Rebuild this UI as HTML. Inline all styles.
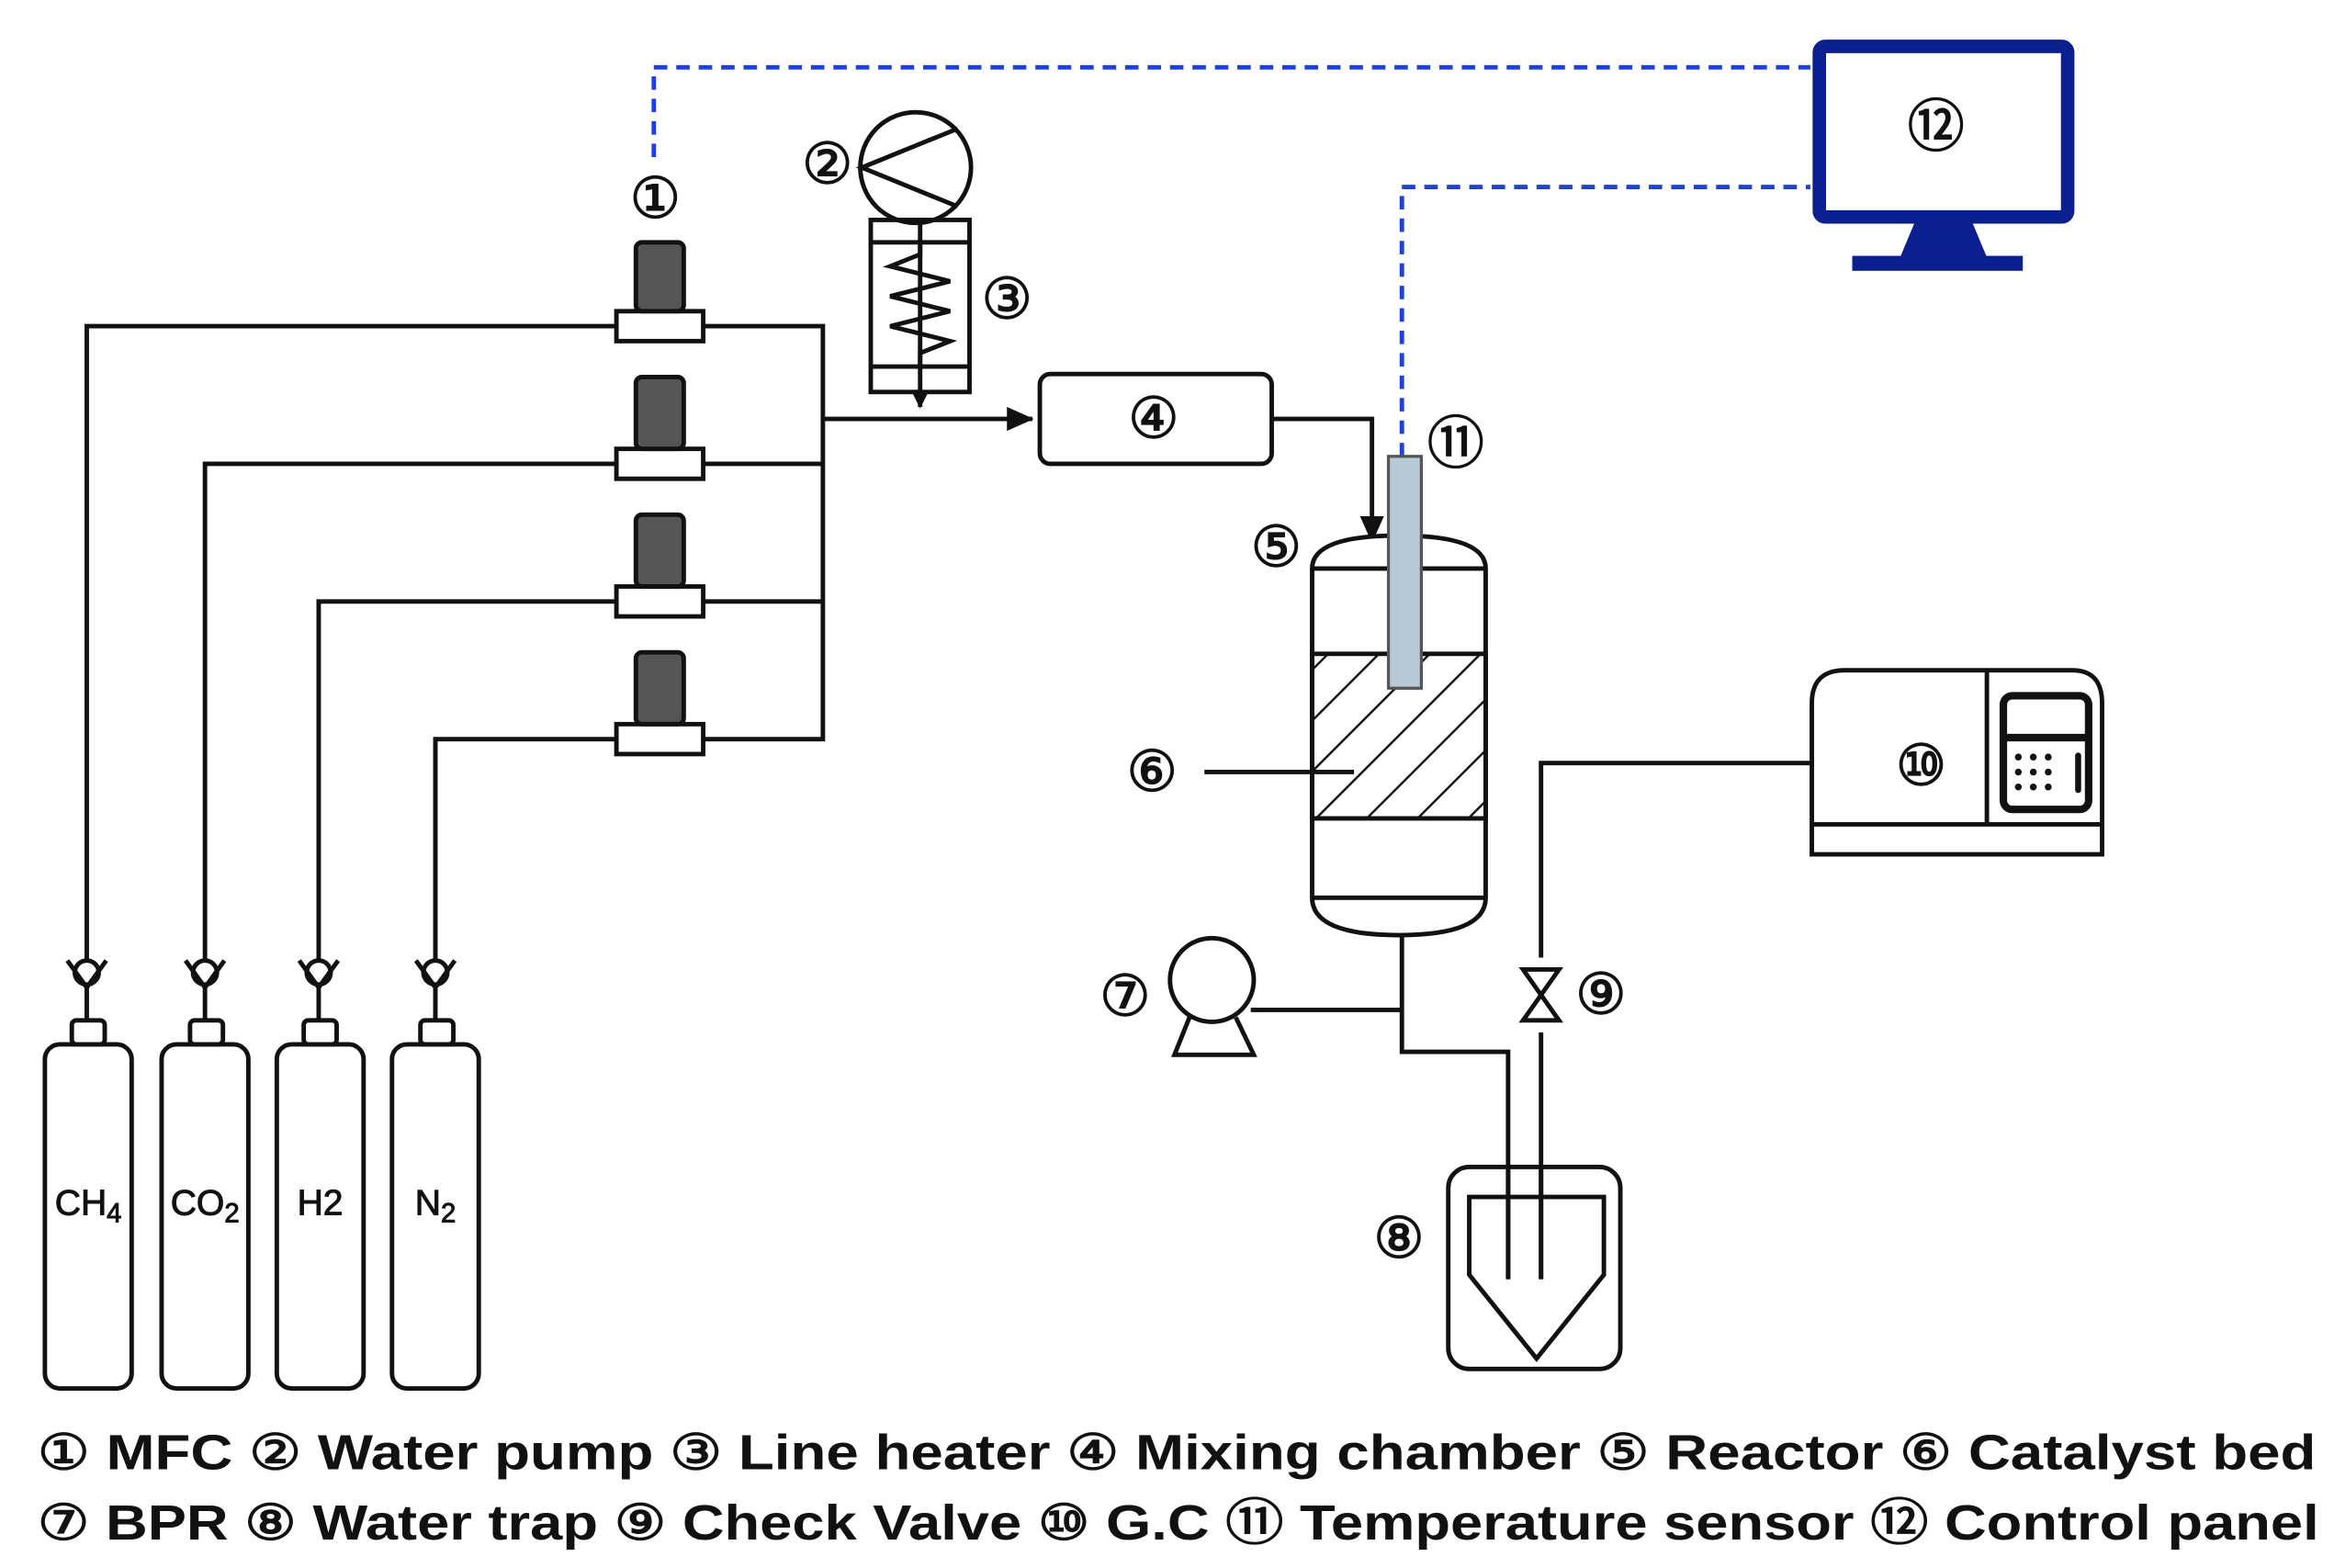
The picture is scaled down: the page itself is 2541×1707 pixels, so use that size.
<!DOCTYPE html>
<html><head><meta charset="utf-8"><style>html,body{margin:0;padding:0;background:#fff}svg{display:block}</style></head>
<body>
<svg width="2541" height="1707" viewBox="0 0 1560 1048" preserveAspectRatio="none" xmlns="http://www.w3.org/2000/svg" font-family="Liberation Sans, DejaVu Sans, sans-serif">
<defs>
<marker id="ar" markerWidth="10" markerHeight="10" refX="9" refY="5" orient="auto" markerUnits="userSpaceOnUse"><path d="M0,0 L10,5 L0,10 z" fill="#111"/></marker>
<marker id="ar2" markerWidth="18" markerHeight="16" refX="17" refY="8" orient="auto" markerUnits="userSpaceOnUse"><path d="M0,0 L18,8 L0,16 z" fill="#111"/></marker>
<pattern id="hatch" width="24" height="24" patternUnits="userSpaceOnUse" patternTransform="rotate(45)"><line x1="0" y1="0" x2="0" y2="24" stroke="#111" stroke-width="3"/></pattern>
<g id="valve"><circle cx="0" cy="0" r="8" fill="#fff" stroke="#111" stroke-width="3"/><path d="M-13,-8 L0,10 L13,-8" fill="none" stroke="#111" stroke-width="3"/></g>
</defs>
<g stroke="#111" stroke-width="3" fill="none">
<path d="M437,105 V45 H1210" stroke="#1f3fe0" stroke-dasharray="9,6"/>
<path d="M937,305 V125 H1210" stroke="#1f3fe0" stroke-dasharray="9,6"/>
<path d="M58,650 V218 H412 M470,218 H550 V494 H470"/>
<path d="M137,650 V310 H412 M470,310 H550"/>
<path d="M213,650 V402 H412 M470,402 H550"/>
<path d="M291,650 V494 H412"/>
<path d="M550,280 H690" marker-end="url(#ar2)"/>
<path d="M850,280 H917 V362" marker-end="url(#ar2)"/>
<path d="M615,149 V272" marker-end="url(#ar)"/>
<g>
<rect x="412" y="208" width="58" height="20" fill="#fff"/><rect x="425" y="162" width="32" height="46" rx="4" fill="#555"/>
<rect x="412" y="300" width="58" height="20" fill="#fff"/><rect x="425" y="252" width="32" height="48" rx="4" fill="#555"/>
<rect x="412" y="392" width="58" height="20" fill="#fff"/><rect x="425" y="344" width="32" height="48" rx="4" fill="#555"/>
<rect x="412" y="484" width="58" height="20" fill="#fff"/><rect x="425" y="436" width="32" height="48" rx="4" fill="#555"/>
</g>
<g>
<path d="M58,655 V682 M137,655 V682 M213,655 V682 M291,655 V682"/>
<rect x="48" y="682" width="22" height="16" rx="3"/><rect x="30" y="698" width="58" height="230" rx="10"/>
<rect x="127" y="682" width="22" height="16" rx="3"/><rect x="108" y="698" width="58" height="230" rx="10"/>
<rect x="203" y="682" width="22" height="16" rx="3"/><rect x="185" y="698" width="58" height="230" rx="10"/>
<rect x="281" y="682" width="22" height="16" rx="3"/><rect x="262" y="698" width="58" height="230" rx="10"/>
</g>
<use href="#valve" x="58" y="650"/><use href="#valve" x="137" y="650"/><use href="#valve" x="213" y="650"/><use href="#valve" x="291" y="650"/>
<circle cx="612" cy="112" r="37" fill="#fff"/>
<path d="M640,86 L576,112 L640,138"/>
<rect x="582" y="147" width="66" height="115"/>
<path d="M582,162 H648 M582,245 H648"/>
<path d="M615,162 V170 L595,178 L635,188 L595,198 L635,208 L595,218 L635,228 L615,236 V245"/>
<rect x="695" y="250" width="155" height="60" rx="7" fill="#fff"/>
<path d="M877,380 Q877,358 935,358 Q993,358 993,380 V600 Q993,625 935,625 Q877,625 877,600 Z" fill="#fff"/>
<path d="M877,380 H993 M877,600 H993"/>
<rect x="877" y="437" width="116" height="110" fill="url(#hatch)"/>
<path d="M805,516 H905"/>
<rect x="928" y="305" width="22" height="155" fill="#b8cad6" stroke="#555" stroke-width="2"/>
<path d="M937,625 V703 H1008 V855 M836,675 H937"/>
<path d="M1030,855 V690 M1030,640 V510 H1211"/>
<path d="M1018,648 L1042,648 L1018,682 L1042,682 Z"/>
<circle cx="810" cy="655" r="28" fill="#fff"/>
<path d="M795,680 L785,705 H838 L826,680"/>
<rect x="968" y="780" width="115" height="135" rx="14" fill="none"/>
<path d="M982,800 H1072 V852 L1027,908 L982,852 Z"/>
<path d="M1008,780 V855 M1030,780 V855"/>
<path d="M1211,571 V470 Q1211,448 1233,448 H1385 Q1405,448 1405,470 V571 Z"/>
<path d="M1211,551 H1405 M1328,448 V551"/>
<rect x="1339" y="465" width="57" height="76" rx="6" stroke-width="5"/>
<path d="M1339,493 H1396" stroke-width="5"/>
<path d="M1389,505 V528" stroke-width="4" stroke-linecap="round"/>
</g>
<g fill="#111">
<circle cx="1349" cy="506" r="2.3"/><circle cx="1359" cy="506" r="2.3"/><circle cx="1369" cy="506" r="2.3"/>
<circle cx="1349" cy="516" r="2.3"/><circle cx="1359" cy="516" r="2.3"/><circle cx="1369" cy="516" r="2.3"/>
<circle cx="1349" cy="526" r="2.3"/><circle cx="1359" cy="526" r="2.3"/><circle cx="1369" cy="526" r="2.3"/>
</g>
<rect x="1216" y="31" width="166" height="114" rx="4" fill="none" stroke="#0c1f8f" stroke-width="9"/>
<path d="M1280,148 H1318 L1328,172 H1270 Z" fill="#0c1f8f"/>
<rect x="1238" y="171" width="114" height="10" fill="#0c1f8f"/>
<g font-size="38" fill="#111" stroke="#111" stroke-width="0.8" text-anchor="middle" dominant-baseline="central">
<text x="438" y="133">①</text><text x="553" y="110">②</text><text x="673" y="200">③</text>
<text x="771" y="280">④</text><text x="853" y="366">⑤</text><text x="770" y="516">⑥</text>
<text x="752" y="666">⑦</text><text x="935" y="828">⑧</text><text x="1070" y="665">⑨</text>
<text x="1284" y="512">⑩</text><text x="973" y="297">⑪</text><text x="1294" y="85">⑫</text>
</g>
<g font-size="24" fill="#111" stroke="#111" stroke-width="0.6" text-anchor="middle">
<text x="59" y="812">CH<tspan font-size="18" dy="5">4</tspan></text>
<text x="137" y="812">CO<tspan font-size="18" dy="5">2</tspan></text>
<text x="214" y="812">H2</text>
<text x="291" y="812">N<tspan font-size="18" dy="5">2</tspan></text>
</g>
<g font-size="33" font-weight="bold" fill="#111">
<text x="25" y="982" textLength="1523" lengthAdjust="spacingAndGlyphs"><tspan font-weight="normal" stroke="#111" stroke-width="0.8">①</tspan> MFC <tspan font-weight="normal" stroke="#111" stroke-width="0.8">②</tspan> Water pump <tspan font-weight="normal" stroke="#111" stroke-width="0.8">③</tspan> Line heater <tspan font-weight="normal" stroke="#111" stroke-width="0.8">④</tspan> Mixing chamber <tspan font-weight="normal" stroke="#111" stroke-width="0.8">⑤</tspan> Reactor <tspan font-weight="normal" stroke="#111" stroke-width="0.8">⑥</tspan> Catalyst bed</text>
<text x="25" y="1029" textLength="1525" lengthAdjust="spacingAndGlyphs"><tspan font-weight="normal" stroke="#111" stroke-width="0.8">⑦</tspan> BPR <tspan font-weight="normal" stroke="#111" stroke-width="0.8">⑧</tspan> Water trap <tspan font-weight="normal" stroke="#111" stroke-width="0.8">⑨</tspan> Check Valve <tspan font-weight="normal" stroke="#111" stroke-width="0.8">⑩</tspan> G.C <tspan font-weight="normal" stroke="#111" stroke-width="0.8">⑪</tspan> Temperature sensor <tspan font-weight="normal" stroke="#111" stroke-width="0.8">⑫</tspan> Control panel</text>
</g>
</svg>
</body></html>
